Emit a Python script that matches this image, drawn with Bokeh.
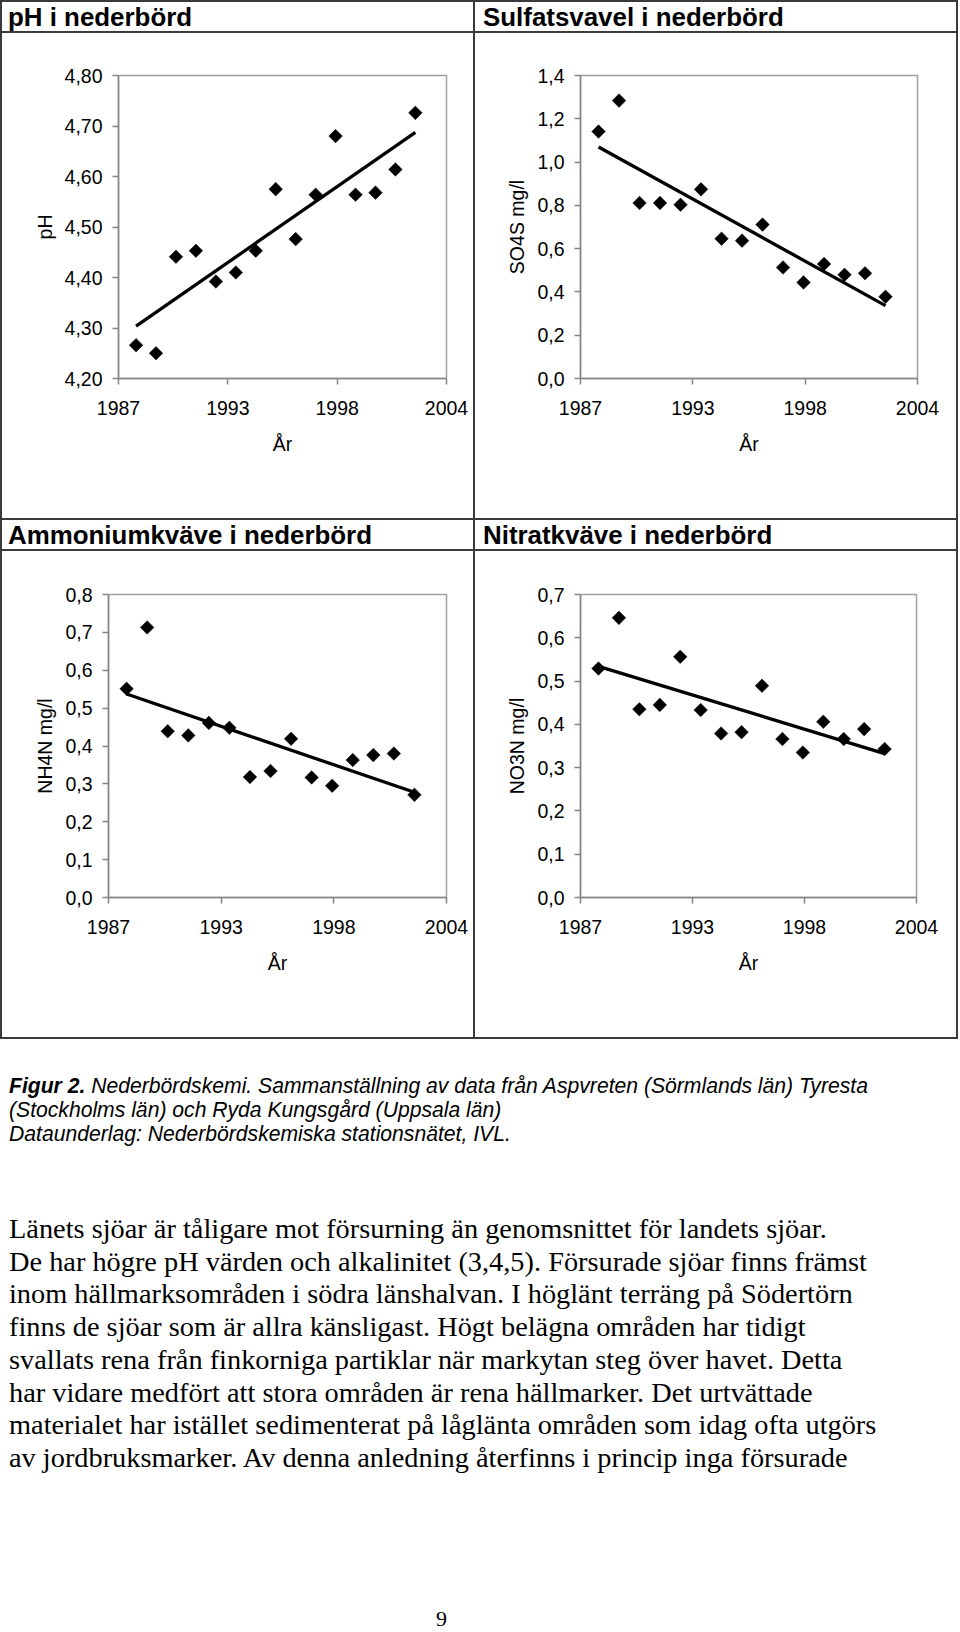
import math
import numpy as np
from bokeh.plotting import figure
from bokeh.models import Range1d, FixedTicker, CustomJSTickFormatter, Div, Spacer
from bokeh.layouts import column, row
from bokeh.embed import file_html
from bokeh.resources import INLINE

# ---------------- data ----------------
years = [1988, 1989, 1990, 1991, 1992, 1993, 1994, 1995, 1996, 1997, 1998, 1999, 2000, 2001, 2002]
ph_values = [4.266, 4.250, 4.441, 4.453, 4.392, 4.410, 4.453, 4.575, 4.476, 4.564, 4.680, 4.564, 4.568, 4.614, 4.726]
so4s_values = [1.141, 1.284, 0.811, 0.811, 0.803, 0.874, 0.646, 0.637, 0.711, 0.513, 0.444, 0.529, 0.479, 0.486, 0.378]
nh4n_values = [0.551, 0.713, 0.439, 0.428, 0.461, 0.448, 0.318, 0.334, 0.419, 0.317, 0.295, 0.363, 0.376, 0.380, 0.271]
no3n_values = [0.529, 0.646, 0.435, 0.445, 0.556, 0.433, 0.379, 0.382, 0.489, 0.366, 0.335, 0.406, 0.366, 0.389, 0.343]

chart_titles = ["pH i nederbörd", "Sulfatsvavel i nederbörd",
                "Ammoniumkväve i nederbörd", "Nitratkväve i nederbörd"]
y_axis_labels = ["pH", "SO4S mg/l", "NH4N mg/l", "NO3N mg/l"]
x_axis_label = "År"

x_range_ends = (1987.12, 2003.56)
x_tick_labels = ["1987", "1993", "1998", "2004"]

ph_range = (4.2, 4.8)
ph_ticks = [4.2, 4.3, 4.4, 4.5, 4.6, 4.7, 4.8]
ph_tick_labels = ["4,20", "4,30", "4,40", "4,50", "4,60", "4,70", "4,80"]

so4s_range = (0.0, 1.4)
so4s_ticks = [0.0, 0.2, 0.4, 0.6, 0.8, 1.0, 1.2, 1.4]
so4s_tick_labels = ["0,0", "0,2", "0,4", "0,6", "0,8", "1,0", "1,2", "1,4"]

nh4n_range = (0.0, 0.8)
nh4n_ticks = [0.0, 0.1, 0.2, 0.3, 0.4, 0.5, 0.6, 0.7, 0.8]
nh4n_tick_labels = ["0,0", "0,1", "0,2", "0,3", "0,4", "0,5", "0,6", "0,7", "0,8"]

no3n_range = (0.0, 0.7)
no3n_ticks = [0.0, 0.1, 0.2, 0.3, 0.4, 0.5, 0.6, 0.7]
no3n_tick_labels = ["0,0", "0,1", "0,2", "0,3", "0,4", "0,5", "0,6", "0,7"]

caption_bold = "Figur 2."
caption_lines = [
    " Nederbördskemi. Sammanställning av data från Aspvreten (Sörmlands län) Tyresta",
    "(Stockholms län) och Ryda Kungsgård (Uppsala län)",
    "Dataunderlag: Nederbördskemiska stationsnätet, IVL.",
]
body_lines = [
    "Länets sjöar är tåligare mot försurning än genomsnittet för landets sjöar.",
    "De har högre pH värden och alkalinitet (3,4,5). Försurade sjöar finns främst",
    "inom hällmarksområden i södra länshalvan. I höglänt terräng på Södertörn",
    "finns de sjöar som är allra känsligast. Högt belägna områden har tidigt",
    "svallats rena från finkorniga partiklar när markytan steg över havet. Detta",
    "har vidare medfört att stora områden är rena hällmarker. Det urtvättade",
    "materialet har istället sedimenterat på låglänta områden som idag ofta utgörs",
    "av jordbruksmarker. Av denna anledning återfinns i princip inga försurade",
]
page_number = "9"

# ---------------- geometry / style ----------------
S = 1.0
X0, Y0 = 0.7, 0.0


def LX(v):
    return int(round((v - X0) * S))


def LY(v):
    return int(round((v - Y0) * S))


LINE_COLOR = "#3a3a3a"
AXIS_COLOR = "#858585"
OUTLINE_COLOR = "#a0a0a0"
SANS = "Liberation Sans"
SERIF = "Liberation Serif"
TICK_FS = f"{19.5 * S:.2f}px"

XB = [0.7, 2.7, 474.0, 476.0, 956.3, 958.3]
YB = [0.0, 2.0, 31.0, 33.0, 518.3, 520.3, 549.3, 551.3, 1037.3, 1039.3]
TOTAL_W = LX(XB[-1]) - LX(XB[0])

col_w = [LX(XB[i + 1]) - LX(XB[i]) for i in range(len(XB) - 1)]
row_h = [LY(YB[i + 1]) - LY(YB[i]) for i in range(len(YB) - 1)]


def line_div(w, h):
    return Div(text=f'<div style="width:{w}px;height:{h}px;background:{LINE_COLOR};"></div>',
               width=w, height=h, margin=0,
               styles={"background-color": LINE_COLOR, "overflow": "hidden"})


def title_div(text, w, h, pad):
    html = (f'<div style="font-family:\'{SANS}\',Arial,sans-serif;font-weight:bold;'
            f'font-size:{25.9 * S:.2f}px;line-height:{h}px;padding-left:{pad}px;position:relative;top:1px;'
            f'white-space:nowrap;color:#000;">{text}</div>')
    return Div(text=html, width=w, height=h, margin=0, styles={"overflow": "hidden"})


def label_formatter(tick_values, tick_texts):
    return CustomJSTickFormatter(args=dict(tvals=list(tick_values), ttexts=list(tick_texts)), code="""
        let best = '';
        let bd = Infinity;
        for (let i = 0; i < tvals.length; i++) {
            const d = Math.abs(tvals[i] - tick);
            if (d < bd) { bd = d; best = ttexts[i]; }
        }
        return bd < 1e-6 * Math.max(1, Math.abs(tick)) ? best : '';
    """)


x_ticks = [float(v) for v in np.linspace(x_range_ends[0], x_range_ends[1], len(x_tick_labels))]


def make_chart(cell, frame, values, yrange, yticks, ylabels, ylabel):
    cx0, cx1, cy0, cy1 = cell
    fl, fr, ft, fb = frame
    w = LX(cx1) - LX(cx0)
    h = LY(cy1) - LY(cy0)
    p = figure(width=w, height=h, output_backend="svg", toolbar_location=None,
               x_range=Range1d(*x_range_ends), y_range=Range1d(*yrange),
               min_border_left=LX(fl) - LX(cx0), min_border_right=LX(cx1) - LX(fr),
               min_border_top=LY(ft) - LY(cy0), min_border_bottom=LY(cy1) - LY(fb),
               background_fill_color="white", border_fill_color="white",
               outline_line_color=OUTLINE_COLOR, outline_line_width=1.5, margin=0)
    p.xgrid.visible = False
    p.ygrid.visible = False

    for ax in (p.xaxis[0], p.yaxis[0]):
        ax.axis_line_color = AXIS_COLOR
        ax.axis_line_width = 1.5
        ax.major_tick_line_color = AXIS_COLOR
        ax.major_tick_line_width = 1.5
        ax.major_tick_out = 6
        ax.major_tick_in = 0
        ax.minor_tick_line_color = None
        ax.major_label_text_font = SANS
        ax.major_label_text_font_size = TICK_FS
        ax.major_label_text_color = "black"
        ax.axis_label_text_font = SANS
        ax.axis_label_text_font_size = TICK_FS
        ax.axis_label_text_font_style = "normal"
        ax.axis_label_text_color = "black"

    xa = p.xaxis[0]
    xa.ticker = FixedTicker(ticks=x_ticks, minor_ticks=[])
    xa.formatter = label_formatter(x_ticks, x_tick_labels)
    xa.major_label_standoff = 16
    xa.axis_label = x_axis_label
    xa.axis_label_standoff = 15

    ya = p.yaxis[0]
    ya.ticker = FixedTicker(ticks=yticks, minor_ticks=[])
    ya.formatter = label_formatter(yticks, ylabels)
    ya.major_label_standoff = 10
    ya.axis_label = ylabel
    ya.axis_label_standoff = 6

    slope, intercept = np.polyfit(years, values, 1)
    xs = [years[0], years[-1]]
    p.line(xs, [slope * x + intercept for x in xs], line_color="black", line_width=3.3)
    p.scatter(years, values, marker="square", angle=math.pi / 4, size=9.6 * S,
              fill_color="black", line_color="black", line_width=0.5)
    return p


cells = [
    ((XB[1], XB[2], YB[3], YB[4]), (119.0, 446.7, 75.3, 380.0)),
    ((XB[3], XB[4], YB[3], YB[4]), (581.0, 917.3, 75.0, 377.7)),
    ((XB[1], XB[2], YB[7], YB[8]), (108.3, 446.7, 594.0, 899.0)),
    ((XB[3], XB[4], YB[7], YB[8]), (581.0, 916.7, 593.3, 896.7)),
]
series = [
    (ph_values, ph_range, ph_ticks, ph_tick_labels),
    (so4s_values, so4s_range, so4s_ticks, so4s_tick_labels),
    (nh4n_values, nh4n_range, nh4n_ticks, nh4n_tick_labels),
    (no3n_values, no3n_range, no3n_ticks, no3n_tick_labels),
]
charts = []
for i in range(4):
    vals, yr, yt, yl = series[i]
    cell, frame = cells[i]
    charts.append(make_chart(cell, frame, vals, yr, yt, yl, y_axis_labels[i]))


def table_row(h, left_item, right_item):
    return row(line_div(col_w[0], h), left_item, line_div(col_w[2], h), right_item,
               line_div(col_w[4], h), spacing=0, margin=0)


children = [
    line_div(TOTAL_W, row_h[0]),
    table_row(row_h[1], title_div(chart_titles[0], col_w[1], row_h[1], 6),
              title_div(chart_titles[1], col_w[3], row_h[1], 8)),
    line_div(TOTAL_W, row_h[2]),
    table_row(row_h[3], charts[0], charts[1]),
    line_div(TOTAL_W, row_h[4]),
    table_row(row_h[5], title_div(chart_titles[2], col_w[1], row_h[5], 6),
              title_div(chart_titles[3], col_w[3], row_h[5], 8)),
    line_div(TOTAL_W, row_h[6]),
    table_row(row_h[7], charts[2], charts[3]),
    line_div(TOTAL_W, row_h[8]),
]

# text blocks below the table (reference px)
cap_fs, cap_lh = 21.15, 24.0
cap_top = 1093.0 - ((cap_lh - 1.117 * cap_fs) / 2 + 0.905 * cap_fs)
cap_bot = cap_top + cap_lh * len(caption_lines)
body_fs, body_lh = 28.35, 32.7
body_top = 1239.0 - ((body_lh - 1.107 * body_fs) / 2 + 0.891 * body_fs)
body_bot = body_top + body_lh * len(body_lines)
pg_fs, pg_lh = 22.0, 26.0
pg_top = 1626.0 - ((pg_lh - 1.107 * pg_fs) / 2 + 0.891 * pg_fs)
pg_bot = pg_top + pg_lh

cap_html = (f'<div style="font-family:\'{SANS}\',Arial,sans-serif;font-style:italic;'
            f'font-size:{cap_fs * S:.2f}px;line-height:{cap_lh * S:.2f}px;white-space:nowrap;'
            f'padding-left:{LX(9.8)}px;color:#000;">'
            f'<b>{caption_bold}</b>{caption_lines[0]}<br>' + '<br>'.join(caption_lines[1:]) + '</div>')
body_html = (f'<div style="font-family:\'{SERIF}\',\'Times New Roman\',serif;'
             f'font-size:{body_fs * S:.2f}px;line-height:{body_lh * S:.2f}px;white-space:nowrap;'
             f'padding-left:{LX(9.5)}px;color:#000;">' + '<br>'.join(body_lines) + '</div>')
pg_html = (f'<div style="font-family:\'{SERIF}\',\'Times New Roman\',serif;'
           f'font-size:{pg_fs * S:.2f}px;line-height:{pg_lh * S:.2f}px;white-space:nowrap;'
           f'padding-left:{LX(437.0)}px;color:#000;">{page_number}</div>')

children += [
    Spacer(width=TOTAL_W, height=LY(cap_top) - LY(YB[-1]), margin=0),
    Div(text=cap_html, width=TOTAL_W, height=LY(cap_bot) - LY(cap_top), margin=0),
    Spacer(width=TOTAL_W, height=LY(body_top) - LY(cap_bot), margin=0),
    Div(text=body_html, width=TOTAL_W, height=LY(body_bot) - LY(body_top), margin=0),
    Spacer(width=TOTAL_W, height=LY(pg_top) - LY(body_bot), margin=0),
    Div(text=pg_html, width=TOTAL_W, height=LY(pg_bot) - LY(pg_top), margin=0),
]

page = column(*children, spacing=0, margin=0)

open("out.html", "w").write(file_html(page, INLINE, title="Nederbördskemi"))
